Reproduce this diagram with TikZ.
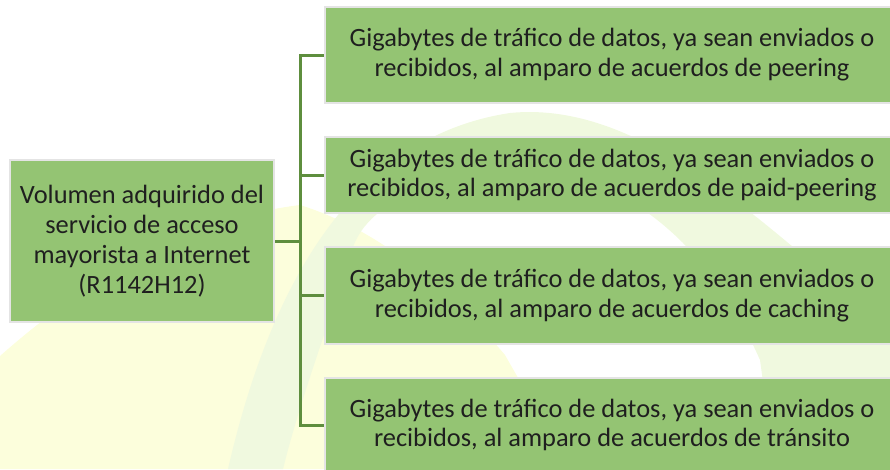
\documentclass[tikz,border=0pt]{standalone}
\usepackage{fontspec}
\setmainfont{Carlito}
\definecolor{verdecaja}{HTML}{94C473}
\definecolor{verderama}{HTML}{5E8E3E}
\definecolor{bordecaja}{HTML}{E4E4E4}
\definecolor{marcaamarilla}{HTML}{FCFEDC}
\definecolor{marcaverde}{HTML}{F0F9DF}
\tikzset{
  caja/.style={draw=bordecaja, line width=2pt, fill=verdecaja, inner sep=0pt,
    align=center, text=black!88, font=\fontsize{26.4}{29.8}\selectfont},
  rama/.style={draw=verderama, line width=3pt}
}
\begin{document}
\begin{tikzpicture}[x=1pt,y=-1pt]
      \useasboundingbox (0,0) rectangle (890,469);
      \clip (0,0) rectangle (890,469);
      % marca de agua del fondo
      \fill[marcaamarilla] (0,469) -- (0,356) .. controls (120,250) and (220,215) .. (300,205)
        .. controls (380,230) and (450,290) .. (505,355) -- (570,469) -- cycle;
      \fill[marcaverde] (228,469) .. controls (260,330) and (330,140) .. (510,113)
        .. controls (640,100) and (760,220) .. (890,330) -- (890,469) -- (775,469) -- (760,360)
        .. controls (720,270) and (660,200) .. (560,170)
        .. controls (440,170) and (370,200) .. (353,247)
        .. controls (330,320) and (300,400) .. (283,469) -- cycle;
      % cajas
      \draw
        (142,241) node[caja, minimum width=264, minimum height=162] (vol)
          {Volumen adquirido del\\servicio de acceso\\mayorista a Internet\\(R1142H12)}
        (612,55) node[caja, minimum width=574, minimum height=96] (peer)
          {Gigabytes de tráfico de datos, ya sean enviados o\\recibidos, al amparo de acuerdos de peering}
        (612,175) node[caja, minimum width=574, minimum height=76] (paid)
          {Gigabytes de tráfico de datos, ya sean enviados o\\recibidos, al amparo de acuerdos de paid-peering}
        (612,295.5) node[caja, minimum width=574, minimum height=97] (cach)
          {Gigabytes de tráfico de datos, ya sean enviados o\\recibidos, al amparo de acuerdos de caching}
        (612,425) node[caja, minimum width=574, minimum height=94] (tran)
          {Gigabytes de tráfico de datos, ya sean enviados o\\recibidos, al amparo de acuerdos de tránsito};
      \coordinate (tronco) at (300,241);
      \begin{scope}[rama]
        \draw (vol.east) to (tronco);
        \draw (tronco) |- (peer.west);
        \draw (tronco) |- (paid.west);
        \draw (tronco) |- (cach.west);
        \draw (tronco) |- (tran.west);
      \end{scope}
    \end{tikzpicture}
\end{document}
